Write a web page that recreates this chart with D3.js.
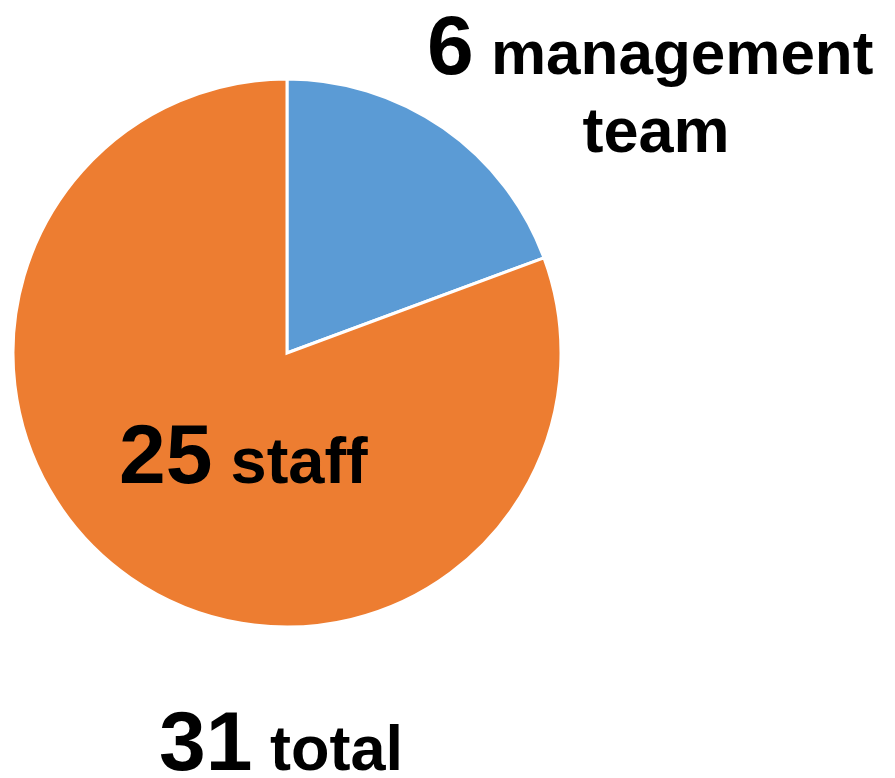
<!DOCTYPE html>
<html>
<head>
<meta charset="utf-8">
<script src="https://d3js.org/d3.v7.min.js"></script>
<style>
    body { margin: 0; background: #fff; }
    text { font-family: 'Liberation Sans', Arial, sans-serif; font-weight: bold; fill: #000; }
</style>
</head>
<body>
<div id="chart"></div>
<script>
    // chart data
    const categories = ['management team', 'staff']
    const values = [6, 25]
    const colors = ['#5B9BD5', '#ED7D31']
    const totalLabel = 'total'

    const w = 895, h = 778
    const cx = 287, cy = 353, r = 274

    const svg = d3.select('#chart').append('svg')
        .attr('width', w)
        .attr('height', h)

    const pie = d3.pie().sort(null).value(d => d.value)
    const arc = d3.arc().innerRadius(0).outerRadius(r)

    const data = categories.map((c, i) => ({name: c, value: values[i], color: colors[i]}))

    const g = svg.append('g')
        .attr('transform', `translate(${cx},${cy})`)

    g.selectAll('path')
        .data(pie(data))
        .enter().append('path')
        .attr('d', arc)
        .attr('fill', d => d.data.color)
        .attr('stroke', '#fff')
        .attr('stroke-width', 3)
        .attr('stroke-linejoin', 'miter')

    // labels: big number + smaller word
    function label(x, y, num, word, size) {
        const t = svg.append('text')
            .attr('x', x)
            .attr('y', y)
        t.append('tspan').style('font-size', '84px').text(num)
        t.append('tspan').style('font-size', (size || 63) + 'px').text(' ' + word)
        return t
    }

    // management team (split over two lines)
    const words = categories[0].split(' ')
    label(427, 74, values[0], words[0], 62)
    svg.append('text')
        .attr('x', 656)
        .attr('y', 152)
        .attr('text-anchor', 'middle')
        .style('font-size', '63px')
        .text(words[1])

    label(119, 483, values[1], categories[1], 65)
    label(159, 770, d3.sum(values), totalLabel, 63)
</script>
</body>
</html>
